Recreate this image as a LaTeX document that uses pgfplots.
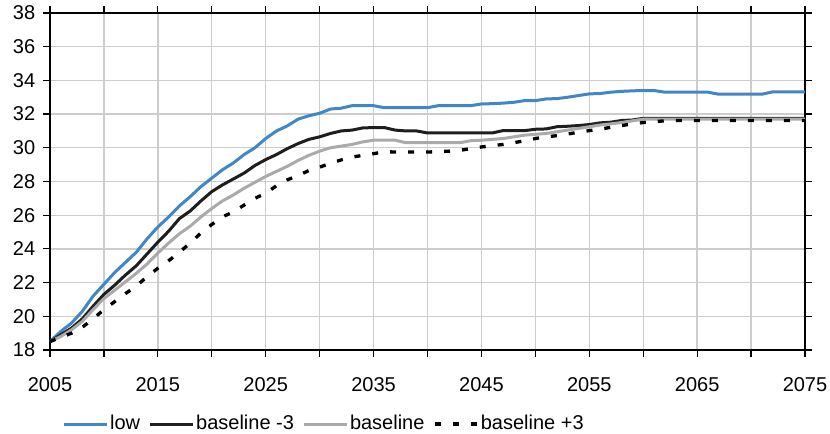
\documentclass[border=0pt]{standalone}
\usepackage{pgfplots}
\usepackage{pgfplotstable}
\usepackage{fontspec}
\setmainfont{Liberation Sans}
\pgfplotsset{compat=1.18}
\definecolor{lowblue}{RGB}{66,134,198}
\definecolor{bdark}{RGB}{30,30,30}
\definecolor{bgray}{RGB}{170,170,170}
\definecolor{gridgray}{RGB}{205,205,205}
\pgfplotstableread{
year low bm3 base bp3
2005 18.5 18.5 18.5 18.5
2006 19.1 18.9 18.8 18.75
2007 19.6 19.3 19.2 19.0
2008 20.3 19.85 19.7 19.35
2009 21.2 20.6 20.4 19.85
2010 21.9 21.3 21.05 20.4
2011 22.6 21.85 21.55 20.87
2012 23.2 22.45 22.05 21.35
2013 23.8 23.0 22.55 21.8
2014 24.6 23.7 23.1 22.35
2015 25.3 24.4 23.75 22.85
2016 25.9 25.05 24.35 23.3
2017 26.55 25.8 24.9 23.8
2018 27.1 26.25 25.35 24.35
2019 27.7 26.85 25.9 24.95
2020 28.2 27.4 26.4 25.45
2021 28.7 27.8 26.85 25.9
2022 29.1 28.15 27.2 26.2
2023 29.6 28.5 27.6 26.6
2024 30.0 28.95 27.95 27.0
2025 30.55 29.3 28.3 27.3
2026 31.0 29.6 28.6 27.75
2027 31.3 29.95 28.9 28.1
2028 31.7 30.25 29.25 28.35
2029 31.9 30.5 29.55 28.65
2030 32.05 30.65 29.8 28.85
2031 32.3 30.85 30.0 29.08
2032 32.35 31.0 30.1 29.28
2033 32.5 31.05 30.2 29.45
2034 32.5 31.18 30.35 29.55
2035 32.5 31.2 30.45 29.65
2036 32.38 31.2 30.45 29.77
2037 32.38 31.05 30.45 29.75
2038 32.38 31.0 30.3 29.75
2039 32.38 31.0 30.3 29.75
2040 32.38 30.88 30.3 29.75
2041 32.5 30.88 30.3 29.77
2042 32.5 30.88 30.3 29.8
2043 32.5 30.88 30.3 29.85
2044 32.5 30.88 30.42 29.95
2045 32.6 30.88 30.45 30.05
2046 32.62 30.88 30.5 30.12
2047 32.65 31.02 30.55 30.2
2048 32.7 31.02 30.65 30.3
2049 32.8 31.02 30.75 30.42
2050 32.8 31.1 30.8 30.55
2051 32.9 31.12 30.85 30.65
2052 32.92 31.25 30.95 30.72
2053 33.0 31.28 31.05 30.82
2054 33.1 31.32 31.15 30.92
2055 33.2 31.38 31.25 31.02
2056 33.22 31.48 31.35 31.1
2057 33.3 31.52 31.42 31.22
2058 33.35 31.62 31.5 31.32
2059 33.38 31.65 31.6 31.42
2060 33.4 31.75 31.7 31.5
2061 33.4 31.75 31.7 31.55
2062 33.3 31.75 31.7 31.6
2063 33.3 31.75 31.7 31.62
2064 33.3 31.75 31.7 31.62
2065 33.3 31.75 31.7 31.62
2066 33.3 31.75 31.7 31.62
2067 33.18 31.75 31.7 31.62
2068 33.18 31.75 31.7 31.62
2069 33.18 31.75 31.7 31.62
2070 33.18 31.75 31.7 31.62
2071 33.18 31.75 31.7 31.62
2072 33.32 31.75 31.7 31.62
2073 33.32 31.75 31.7 31.62
2074 33.32 31.75 31.7 31.62
2075 33.32 31.75 31.7 31.62
}\datatable
\begin{document}
\fontsize{20bp}{24bp}\selectfont
\begin{tikzpicture}
\path[use as bounding box] (-50bp,-84bp) rectangle (780bp,350bp);
\begin{axis}[
  anchor=south west, at={(0,0)},
  scale only axis, width=755bp, height=337bp,
  xmin=2005, xmax=2075, ymin=18, ymax=38,
  xtick={2005,2010,...,2075},
  xticklabels={2005,,2015,,2025,,2035,,2045,,2055,,2065,,2075},
  ytick={18,20,...,38},
  /pgf/number format/assume math mode=true,
  /pgf/number format/1000 sep={},
  tick align=outside, major tick length=7bp,
  tick style={black, line width=1.2bp},
  axis line style={black, line width=1.3bp},
  grid=major,
  grid style={gridgray, line width=1.3bp},
  xticklabel style={yshift=-14bp},
  yticklabel style={xshift=-1bp},
  legend columns=4,
  legend style={draw=none, fill=none, at={(axis description cs:0.0165,-0.2196)}, anchor=west, inner sep=0pt,
    nodes={inner sep=1.5bp}, /tikz/every even column/.append style={column sep=7bp}},
  legend image code/.code={\draw[#1] (0bp,0bp) -- (43bp,0bp);},
]
\addplot[lowblue, line width=3bp] table[x=year, y=low] {\datatable};
\addlegendentry{low}
\addplot[bdark, line width=3bp] table[x=year, y=bm3] {\datatable};
\addlegendentry{baseline -3}
\addplot[bgray, line width=3bp] table[x=year, y=base] {\datatable};
\addlegendentry{baseline}
\addplot[black, line width=3.3bp, dash pattern=on 6bp off 12bp] table[x=year, y=bp3] {\datatable};
\addlegendentry{baseline +3}
\end{axis}
\end{tikzpicture}
\end{document}
